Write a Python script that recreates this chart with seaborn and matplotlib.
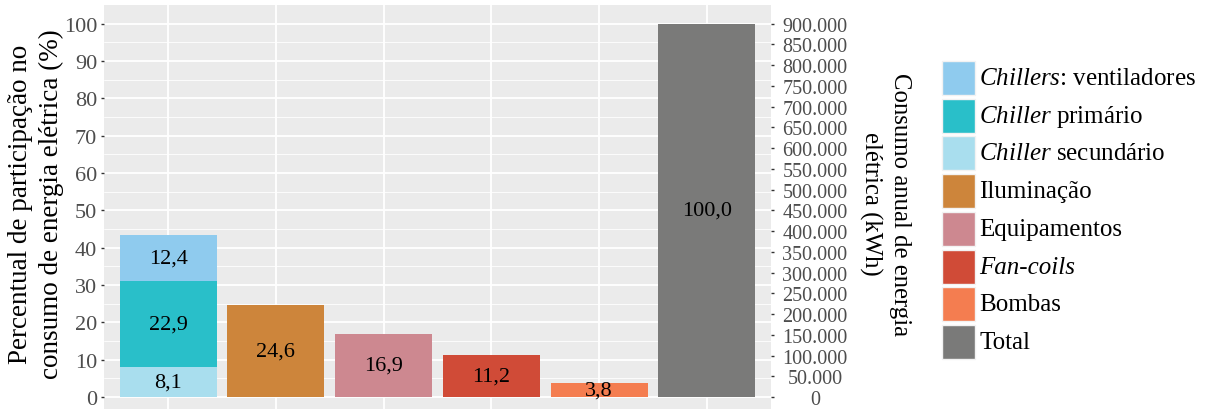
import numpy as np
import pandas as pd
import matplotlib
matplotlib.use("Agg")
import matplotlib.pyplot as plt
import seaborn as sns
from matplotlib.patches import Rectangle
from matplotlib.ticker import FixedLocator, FuncFormatter

# dados (percentual do consumo anual)
categorias = ["Chillers", "Iluminação", "Equipamentos", "Fan-coils", "Bombas", "Total"]
chiller_partes = ["Chiller secundário", "Chiller primário", "Chillers: ventiladores"]
chiller_valores = [8.1, 22.9, 12.4]
outros = ["Iluminação", "Equipamentos", "Fan-coils", "Bombas", "Total"]
outros_valores = [24.6, 16.9, 11.2, 3.8, 100.0]
consumo_total_kwh = 900000

legenda = ["Chillers: ventiladores", "Chiller primário", "Chiller secundário",
           "Iluminação", "Equipamentos", "Fan-coils", "Bombas", "Total"]
rotulos_legenda = {
    "Chillers: ventiladores": r"$\it{Chillers}$: ventiladores",
    "Chiller primário": r"$\it{Chiller}$ primário",
    "Chiller secundário": r"$\it{Chiller}$ secundário",
}
cores = {
    "Chillers: ventiladores": "#8FCBEE",
    "Chiller primário": "#29BFC9",
    "Chiller secundário": "#A9DEEE",
    "Iluminação": "#CD853B",
    "Equipamentos": "#CD8890",
    "Fan-coils": "#D04B37",
    "Bombas": "#F47D50",
    "Total": "#7A7A79",
}

sns.set_theme(style="darkgrid")
plt.rcParams["font.family"] = ["Liberation Serif", "DejaVu Serif"]
plt.rcParams["mathtext.fontset"] = "custom"
plt.rcParams["mathtext.rm"] = "Liberation Serif"
plt.rcParams["mathtext.it"] = "Liberation Serif:italic"

W, H = 1210, 410
fig = plt.figure(figsize=(W / 100, H / 100), dpi=100)
fig.patch.set_facecolor("white")

# painel: y de -5 a 105 ocupa do pixel 6 ao 416.7 (cortado embaixo)
x0, x1 = 103.5, 771.5
ytop, ybot = 6.0, 416.7
ax = fig.add_axes([x0 / W, (H - ybot) / H, (x1 - x0) / W, (ybot - ytop) / H])
ax.set_facecolor("#EBEBEB")

# barras simples
df_outros = pd.DataFrame({"categoria": outros, "valor": outros_valores})
sns.barplot(data=df_outros, x="categoria", y="valor", hue="categoria",
            order=categorias, hue_order=outros,
            palette={k: cores[k] for k in outros}, dodge=False,
            width=0.9, saturation=1, linewidth=0, legend=False, ax=ax)

# barra empilhada dos chillers (desenhada do topo para a base)
acumulado = np.cumsum(chiller_valores)
for parte, topo in reversed(list(zip(chiller_partes, acumulado))):
    sns.barplot(x=["Chillers"], y=[topo], order=categorias, color=cores[parte],
                width=0.9, saturation=1, linewidth=0, ax=ax)

# rótulos dos valores
base = 0
for v in chiller_valores:
    ax.text(0, base + v / 2, f"{v:.1f}".replace(".", ","), ha="center",
            va="center", fontsize=16, color="black")
    base += v
for cat, v in zip(outros, outros_valores):
    ax.text(categorias.index(cat), v / 2, f"{v:.1f}".replace(".", ","),
            ha="center", va="center", fontsize=16, color="black")

ax.set_xlim(-0.6, len(categorias) - 0.4)
ax.set_ylim(-5, 105)
ax.yaxis.set_major_locator(FixedLocator(np.arange(0, 101, 10)))
ax.yaxis.set_minor_locator(FixedLocator(np.arange(5, 100, 10)))
ax.xaxis.set_major_locator(FixedLocator(range(len(categorias))))
ax.set_xticklabels([""] * len(categorias))
ax.grid(True, which="major", color="white", linewidth=1.3)
ax.grid(True, which="minor", axis="y", color="white", linewidth=0.6)
ax.tick_params(axis="y", which="major", left=True, length=2.5, width=1,
               color="#333333", labelcolor="#4D4D4D", labelsize=16, pad=2)
ax.tick_params(axis="y", which="minor", left=False, length=0)
ax.tick_params(axis="x", length=0)
for s in ax.spines.values():
    s.set_visible(False)
ax.set_xlabel("")
ax.set_ylabel("Percentual de participação no\nconsumo de energia elétrica (%)",
              fontsize=19.5, color="black")
ax.yaxis.label.set_linespacing(1.3)
ax.yaxis.set_label_coords(-0.1005, 0.517)
ax.yaxis.label.set_va("center")

# eixo secundário em kWh
ax2 = ax.twinx()
ax2.set_ylim(-5 * consumo_total_kwh / 100, 105 * consumo_total_kwh / 100)
ax2.yaxis.set_major_locator(FixedLocator(np.arange(0, consumo_total_kwh + 1, 50000)))
ax2.yaxis.set_major_formatter(FuncFormatter(lambda v, p: f"{v:,.0f}".replace(",", ".")))
ax2.grid(False)
for s in ax2.spines.values():
    s.set_visible(False)
ax2.tick_params(axis="y", right=True, length=2.5, width=1, color="#333333",
                labelcolor="#4D4D4D", labelsize=14.5, pad=28.8)
for lab in ax2.get_yticklabels():
    lab.set_ha("center")
ax2.set_ylabel("Consumo anual de energia\nelétrica (kWh)", rotation=270,
               fontsize=17.8, color="black")
ax2.yaxis.label.set_linespacing(1.4)
ax2.yaxis.set_label_coords(1.17, 0.517)
ax2.yaxis.label.set_va("center")
ax2.yaxis.label.set_ha("center")

# legenda
for i, nome in enumerate(legenda):
    topo = 62 + i * 37.7
    fig.patches.append(Rectangle((942 / W, (H - topo - 34) / H), 33 / W, 34 / H,
                                 transform=fig.transFigure, facecolor=cores[nome],
                                 edgecolor="#F2F2F2", linewidth=1))
    estilo = "italic" if nome == "Fan-coils" else "normal"
    fig.text(979 / W, (H - topo - 17) / H, rotulos_legenda.get(nome, nome),
             ha="left", va="center", fontsize=18, fontstyle=estilo, color="black")

fig.savefig("out.png", dpi=100)
plt.close(fig)
